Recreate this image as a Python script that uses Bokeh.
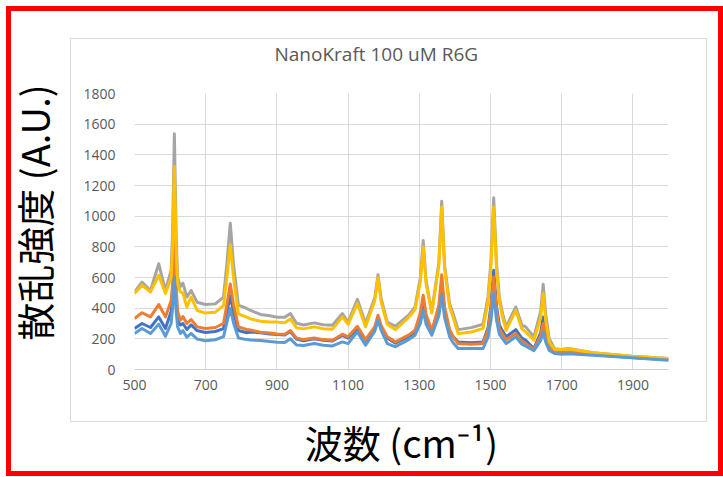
from bokeh.plotting import figure
from bokeh.models import FixedTicker, Range1d
from bokeh.embed import file_html
from bokeh.resources import INLINE

# ---- data ----
wavenumber = [
    500, 521, 545, 568, 587, 603, 607, 612, 617, 621,
    629, 636, 647, 659, 676, 699, 727, 750, 760, 769,
    778, 792, 815, 826, 854, 880, 901, 922, 938, 955,
    975, 1005, 1030, 1056, 1084, 1100, 1126, 1149, 1175, 1184,
    1193, 1210, 1233, 1270, 1288, 1303, 1311, 1319, 1335, 1355,
    1363, 1371, 1385, 1395, 1409, 1446, 1479, 1493, 1501, 1509,
    1517, 1525, 1534, 1544, 1571, 1588, 1599, 1622, 1641, 1648,
    1655, 1665, 1680, 1700, 1720, 1788, 1897, 2000,
]
series_gray = [
    505, 570, 515, 690, 515, 650, 900, 1537, 880, 600,
    540, 563, 472, 515, 439, 424, 428, 472, 700, 954,
    690, 420, 398, 385, 359, 350, 341, 340, 365, 302,
    290, 304, 292, 289, 365, 310, 458, 300, 470, 618,
    460, 310, 282, 354, 408, 600, 842, 580, 375, 700,
    1098, 680, 430, 365, 260, 273, 295, 473, 700, 1120,
    690, 470, 365, 278, 408, 290, 278, 213, 380, 556,
    360, 200, 135, 130, 137, 110, 87, 72,
]
series_yellow = [
    495, 550, 505, 615, 495, 600, 800, 1324, 780, 560,
    505, 500, 406, 472, 385, 368, 374, 417, 610, 815,
    600, 363, 341, 330, 315, 310, 309, 305, 330, 272,
    265, 278, 266, 263, 343, 295, 430, 278, 450, 599,
    440, 295, 260, 339, 391, 575, 799, 560, 369, 680,
    1059, 660, 410, 340, 234, 245, 267, 440, 660, 1059,
    650, 440, 340, 256, 386, 265, 245, 191, 340, 495,
    320, 180, 132, 130, 133, 109, 87, 72,
]
series_orange = [
    333, 370, 343, 424, 343, 450, 560, 867, 540, 380,
    322, 345, 300, 326, 278, 268, 274, 300, 430, 558,
    425, 278, 261, 258, 243, 238, 232, 230, 254, 205,
    195, 206, 195, 191, 230, 213, 282, 195, 280, 354,
    285, 213, 180, 224, 256, 370, 484, 360, 252, 420,
    618, 410, 260, 215, 169, 165, 169, 255, 386, 603,
    385, 265, 230, 195, 234, 185, 169, 130, 220, 300,
    210, 140, 115, 112, 115, 100, 80, 66,
]
series_blue = [
    267, 300, 274, 343, 267, 380, 480, 720, 460, 320,
    290, 300, 261, 291, 254, 241, 248, 267, 380, 480,
    375, 254, 240, 245, 240, 232, 228, 225, 248, 198,
    188, 200, 190, 186, 222, 205, 265, 188, 265, 335,
    270, 205, 172, 215, 245, 340, 440, 330, 240, 390,
    560, 380, 250, 215, 180, 174, 180, 273, 413, 647,
    410, 290, 250, 213, 260, 205, 191, 137, 240, 343,
    230, 145, 112, 110, 112, 97, 78, 64,
]
series_lightblue = [
    235, 267, 235, 296, 217, 300, 400, 604, 380, 280,
    235, 254, 211, 235, 198, 187, 194, 215, 310, 398,
    305, 205, 195, 192, 189, 182, 178, 176, 200, 160,
    156, 169, 158, 154, 180, 169, 245, 158, 250, 321,
    255, 169, 148, 195, 224, 300, 386, 295, 224, 350,
    484, 340, 215, 175, 137, 137, 137, 209, 316, 495,
    320, 230, 200, 169, 213, 165, 152, 122, 190, 245,
    180, 125, 105, 100, 102, 93, 76, 61,
]
x_ticks = [500, 700, 900, 1100, 1300, 1500, 1700, 1900]
y_ticks = [0, 200, 400, 600, 800, 1000, 1200, 1400, 1600, 1800]

series = [
    (series_blue, "#4472C4"),
    (series_orange, "#ED7D31"),
    (series_gray, "#A5A5A5"),
    (series_yellow, "#FFC000"),
    (series_lightblue, "#5B9BD5"),
]
for s, _ in series:
    assert len(s) == len(wavenumber)

# decorative frames (red outer border, light-grey chart box) as page background
rects = [
    ("#ff0000", 6, 6, 5, 470), ("#ff0000", 6, 6, 717, 5),
    ("#ff0000", 6, 471, 717, 5), ("#ff0000", 718, 6, 5, 470),
    ("#d9d9d9", 70, 38, 1, 383), ("#d9d9d9", 70, 38, 636, 1),
    ("#d9d9d9", 70, 421, 637, 1), ("#d9d9d9", 706, 38, 1, 384),
]
bg_styles = {
    "background-image": ", ".join(f"linear-gradient({c}, {c})" for c, *_ in rects),
    "background-position": ", ".join(f"{x}px {y}px" for _, x, y, w, h in rects),
    "background-size": ", ".join(f"{w}px {h}px" for _, x, y, w, h in rects),
    "background-repeat": "no-repeat",
    "background-color": "white",
}

p = figure(width=723, height=477, output_backend="svg", toolbar_location=None,
           x_range=Range1d(500, 2000), y_range=Range1d(0, 1800),
           title="NanoKraft 100 uM R6G",
           min_border_left=134, min_border_right=55,
           min_border_top=93, min_border_bottom=108)
p.styles = bg_styles
p.outline_line_color = None
p.background_fill_color = "white"
p.border_fill_color = None

p.title.align = "left"
p.title.offset = 140
p.title.text_font = "Open Sans"
p.title.text_font_size = "19px"
p.title.text_font_style = "normal"
p.title.text_color = "#595959"
p.title.standoff = 53

for ax in (p.xaxis[0], p.yaxis[0]):
    ax.major_tick_line_color = None
    ax.minor_tick_line_color = None
    ax.major_tick_out = 0
    ax.major_tick_in = 0
    ax.minor_tick_out = 0
    ax.major_label_text_font = "Open Sans"
    ax.major_label_text_font_size = "14px"
    ax.major_label_text_color = "#595959"
    ax.axis_label_text_font = "Noto Sans CJK JP"
    ax.axis_label_text_font_size = "38px"
    ax.axis_label_text_font_style = "normal"
    ax.axis_label_text_color = "black"

p.xaxis.ticker = FixedTicker(ticks=x_ticks)
p.yaxis.ticker = FixedTicker(ticks=y_ticks)
p.xaxis.axis_line_color = "#d0d0d0"
p.yaxis.axis_line_color = None
p.xaxis.major_label_standoff = 10
p.yaxis.major_label_standoff = 19
p.xaxis.axis_label = "波数 (cm⁻¹)"
p.yaxis.axis_label = "\u3000散乱強度 (A.U.)"
p.xaxis.axis_label_standoff = 21
p.yaxis.axis_label_standoff = 19

p.xgrid.grid_line_color = "#d9d9d9"
p.ygrid.grid_line_color = "#d9d9d9"

for s, c in series:
    p.line(wavenumber, s, line_color=c, line_width=3, line_join="round")

open("out.html", "w").write(file_html(p, INLINE))
